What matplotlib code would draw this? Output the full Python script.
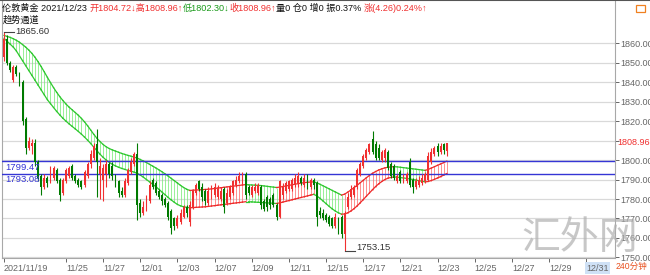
import matplotlib
matplotlib.use("Agg")
import matplotlib.pyplot as plt
from matplotlib.transforms import blended_transform_factory

plt.rcParams["font.family"] = ["Liberation Sans", "Noto Sans CJK SC", "DejaVu Sans"]

# 4-hour bars, London gold, 2021/11/19 .. 2021/12/23
opens = [1853, 1862, 1850, 1841, 1848, 1844, 1840, 1821, 1806, 1807,
         1809, 1799, 1792, 1786, 1791, 1789, 1791, 1795, 1790, 1783,
         1789, 1792, 1797, 1792, 1790, 1789, 1787, 1792, 1798, 1801,
         1808, 1793, 1790, 1793, 1798, 1797, 1792, 1789, 1784, 1782,
         1788, 1794, 1798, 1803, 1778, 1773, 1775, 1779, 1790, 1788,
         1784, 1782, 1780, 1778, 1774, 1770, 1766, 1768, 1771, 1776,
         1768, 1776, 1783, 1789, 1786, 1784, 1778, 1781, 1782, 1781,
         1780, 1785, 1778, 1781, 1783, 1787, 1789, 1788, 1793, 1786,
         1782, 1784, 1783, 1786, 1779, 1781, 1780, 1782, 1777, 1771,
         1782, 1784, 1785, 1785, 1787, 1788, 1791, 1787, 1792, 1786,
         1790, 1788, 1774, 1773, 1772, 1771, 1770, 1766, 1770, 1771,
         1762, 1776, 1781, 1782, 1786, 1793, 1797, 1801, 1804, 1811,
         1808, 1806, 1800, 1801, 1804, 1798, 1797, 1789, 1794, 1789,
         1789, 1799, 1790, 1786, 1787, 1788, 1789, 1790, 1799, 1803,
         1807, 1804, 1808, 1804.72]
highs = [1865.6, 1864, 1851, 1849, 1849, 1845, 1841, 1822, 1812, 1811,
         1811, 1800, 1793, 1793, 1792, 1797, 1797, 1796, 1791, 1791,
         1796, 1797, 1798, 1793, 1791, 1790, 1795, 1799, 1805, 1809,
         1816, 1801, 1798, 1800, 1799, 1799, 1793, 1790, 1786, 1791,
         1796, 1801, 1804, 1809, 1780, 1779, 1782, 1789, 1791, 1789,
         1785, 1783, 1781, 1779, 1775, 1771, 1772, 1775, 1777, 1777,
         1779, 1785, 1788, 1790, 1788, 1785, 1786, 1787, 1788, 1787,
         1786, 1786, 1785, 1787, 1790, 1792, 1794, 1794, 1794, 1787,
         1787, 1788, 1788, 1787, 1780, 1782, 1781, 1783, 1778, 1790,
         1788, 1789, 1790, 1791, 1793, 1794, 1792, 1793, 1793, 1791,
         1791, 1789, 1776, 1775, 1773, 1772, 1771, 1773, 1771, 1772,
         1774, 1783, 1787, 1787, 1796, 1799, 1803, 1806, 1809, 1815,
         1810, 1808, 1805, 1806, 1805, 1799, 1798, 1793, 1795, 1793,
         1794, 1801, 1791, 1791, 1792, 1793, 1794, 1804, 1806, 1807,
         1809, 1809, 1809, 1808.96]
lows = [1851, 1849, 1845, 1840, 1843, 1838, 1818, 1803, 1805, 1803,
        1797, 1789, 1782, 1785, 1786, 1788, 1790, 1788, 1779, 1782,
        1788, 1791, 1790, 1788, 1786, 1785, 1786, 1791, 1796, 1800,
        1781, 1780, 1779, 1786, 1791, 1790, 1786, 1781, 1781, 1781,
        1787, 1793, 1797, 1769, 1771, 1772, 1774, 1778, 1785, 1782,
        1780, 1777, 1776, 1769, 1762, 1764, 1765, 1767, 1770, 1771,
        1766, 1775, 1782, 1784, 1779, 1777, 1777, 1780, 1781, 1780,
        1779, 1773, 1777, 1780, 1782, 1786, 1788, 1787, 1780, 1782,
        1781, 1783, 1782, 1775, 1774, 1774, 1775, 1776, 1769, 1770,
        1780, 1783, 1784, 1784, 1786, 1786, 1787, 1786, 1785, 1785,
        1785, 1766, 1770, 1769, 1768, 1766, 1765, 1765, 1762, 1760,
        1753.15, 1775, 1780, 1781, 1785, 1792, 1796, 1800, 1803, 1803,
        1800, 1800, 1799, 1799, 1795, 1791, 1790, 1788, 1788, 1788,
        1788, 1786, 1783, 1785, 1786, 1787, 1788, 1789, 1798, 1802,
        1802, 1803, 1803, 1802.30]
closes = [1862, 1850, 1846, 1848, 1844, 1840, 1820, 1806, 1810, 1809,
          1799, 1791, 1786, 1791, 1788, 1795, 1796, 1789, 1782, 1790,
          1795, 1796, 1791, 1789, 1787, 1786, 1794, 1798, 1803, 1807,
          1799, 1797, 1796, 1798, 1793, 1792, 1788, 1783, 1782, 1789,
          1795, 1799, 1803, 1777, 1773, 1776, 1780, 1787, 1786, 1783,
          1781, 1779, 1777, 1771, 1765, 1766, 1770, 1773, 1776, 1773,
          1777, 1784, 1787, 1785, 1781, 1779, 1784, 1785, 1786, 1785,
          1784, 1776, 1783, 1786, 1789, 1790, 1792, 1793, 1782, 1783,
          1786, 1786, 1787, 1777, 1775, 1776, 1777, 1777, 1771, 1789,
          1786, 1788, 1789, 1790, 1791, 1792, 1788, 1791, 1787, 1790,
          1787, 1771, 1772, 1770, 1769, 1767, 1766, 1771, 1764, 1762,
          1773, 1781, 1785, 1786, 1795, 1798, 1802, 1805, 1808, 1804,
          1801, 1801, 1804, 1805, 1796, 1792, 1791, 1792, 1789, 1792,
          1793, 1787, 1786, 1789, 1790, 1791, 1793, 1802, 1804, 1806,
          1804, 1807, 1805, 1808.96]

# trend channel (upper / lower edge)
chan_upper = [1864.0, 1863.5, 1863.0, 1862.3, 1861.5, 1860.5, 1859.3, 1858.0, 1856.5, 1854.8,
              1852.8, 1850.5, 1848.0, 1845.3, 1842.5, 1839.8, 1837.2, 1834.8, 1832.6, 1830.6,
              1828.8, 1827.2, 1825.8, 1824.4, 1823.0, 1821.4, 1819.6, 1817.6, 1815.4, 1813.2,
              1811.2, 1809.5, 1808.0, 1806.8, 1805.9, 1805.2, 1804.6, 1804.0, 1803.4, 1802.9,
              1802.4, 1802.0, 1801.5, 1801.0, 1800.3, 1799.5, 1798.7, 1797.8, 1796.9, 1796.0,
              1795.0, 1794.0, 1792.9, 1791.8, 1790.6, 1789.4, 1788.2, 1787.0, 1785.9, 1785.0,
              1784.4, 1784.5, 1784.6, 1784.7, 1784.8, 1784.9, 1785.0, 1785.2, 1785.4, 1785.6,
              1785.8, 1786.0, 1786.2, 1786.4, 1786.6, 1786.8, 1787.0, 1787.2, 1787.4, 1787.3,
              1787.2, 1787.1, 1787.0, 1786.9, 1786.7, 1786.5, 1786.3, 1786.1, 1785.9, 1786.1,
              1786.4, 1786.7, 1787.0, 1787.3, 1787.6, 1787.9, 1788.2, 1788.4, 1788.6, 1788.7,
              1788.8, 1788.3, 1787.6, 1786.8, 1786.0, 1785.2, 1784.4, 1783.6, 1782.8, 1782.0,
              1782.5, 1783.5, 1784.6, 1785.8, 1787.0, 1788.3, 1789.6, 1790.9, 1792.1, 1793.2,
              1794.1, 1794.9, 1795.5, 1796.0, 1796.3, 1796.5, 1796.6, 1796.5, 1796.3, 1796.1,
              1795.9, 1795.7, 1795.5, 1795.3, 1795.1, 1794.9, 1794.7, 1795.2, 1795.9, 1796.6,
              1797.3, 1798.0, 1798.7, 1799.47]
chan_lower = [1862.5, 1861.0, 1859.5, 1858.0, 1856.0, 1853.5, 1851.0, 1848.5, 1846.0, 1843.5,
              1841.0, 1838.5, 1836.0, 1833.5, 1831.0, 1829.0, 1827.0, 1825.0, 1823.2, 1821.5,
              1820.0, 1818.6, 1817.3, 1816.0, 1814.7, 1813.3, 1811.8, 1810.2, 1808.5, 1806.6,
              1804.8, 1803.0, 1801.4, 1800.0, 1798.8, 1797.8, 1797.0, 1796.3, 1795.7, 1795.2,
              1794.7, 1794.3, 1793.8, 1793.2, 1792.3, 1791.2, 1790.0, 1788.8, 1787.6, 1786.4,
              1785.0, 1783.6, 1782.2, 1780.8, 1779.5, 1778.3, 1777.2, 1776.5, 1776.0, 1775.7,
              1775.5, 1775.6, 1775.7, 1775.8, 1775.9, 1776.0, 1776.2, 1776.4, 1776.6, 1776.8,
              1777.0, 1777.2, 1777.4, 1777.6, 1777.8, 1778.0, 1778.2, 1778.4, 1778.6, 1778.6,
              1778.5, 1778.4, 1778.3, 1778.2, 1778.1, 1778.0, 1777.9, 1777.8, 1777.7, 1778.0,
              1778.4, 1778.8, 1779.2, 1779.6, 1780.0, 1780.4, 1780.8, 1781.2, 1781.6, 1782.0,
              1782.4, 1781.6, 1780.4, 1779.0, 1777.6, 1776.2, 1774.9, 1773.8, 1772.9, 1772.2,
              1772.3, 1772.9, 1773.8, 1775.0, 1776.4, 1778.0, 1779.7, 1781.4, 1783.1, 1784.8,
              1786.4, 1787.8, 1789.0, 1790.0, 1790.7, 1791.1, 1791.3, 1791.2, 1791.0, 1790.8,
              1790.6, 1790.3, 1790.0, 1789.7, 1789.4, 1789.1, 1788.8, 1789.0, 1789.5, 1790.1,
              1790.8, 1791.5, 1792.3, 1793.08]

date_ticks = [0, 20, 32, 44, 56, 68, 80, 92, 104, 116, 128, 140, 152, 164, 176, 188]
date_labels = ["2021/11/19", "11/25", "11/27", "12/01", "12/03", "12/07", "12/09",
               "12/11", "12/15", "12/17", "12/21", "12/23", "12/25", "12/27",
               "12/29", "12/31"]
price_ticks = [1750, 1760, 1770, 1780, 1790, 1800, 1810, 1820, 1830, 1840, 1850, 1860]
last_price = 1808.96
hi_mark = (0, 1865.60)
lo_mark = (110, 1753.15)
header = [("伦敦黄金 2021/12/23 ", "#111111"), ("开1804.72↓高1808.96↑", "#f03030"),
          ("低1802.30↓", "#1a9a1a"), ("收1808.96↑", "#f03030"),
          ("量0 仓0 增0 振0.37% ", "#111111"), ("涨(4.26)0.24%↑", "#f03030")]

RED = "#f03030"
GREEN = "#007a00"
BLUE = "#3535d5"
CJK = ["Liberation Sans", "Noto Sans CJK SC", "DejaVu Sans"]

fig = plt.figure(figsize=(6.5, 2.75), dpi=100)
ax = fig.add_axes([2 / 650, 17 / 275, 613 / 650, 258 / 275])
ax.set_xlim(-0.65, 197.3)
ax.set_ylim(1749.7, 1882.2)

# grid + axes; the 1810 label gives way to the last price
ax.set_yticks(price_ticks)
ax.set_yticklabels(["" if v == 1810 else f"{v:.2f}" for v in price_ticks])
ax.yaxis.tick_right()
ax.grid(axis="y", color="#d9d9d9", lw=0.9)
ax.tick_params(axis="y", length=3, width=0.7, pad=1, labelsize=6.5,
               colors="#666666", direction="out")
ax.set_xticks(date_ticks)
ax.set_xticklabels(date_labels)
ax.tick_params(axis="x", length=3, width=0.7, pad=1, labelsize=6.5,
               colors="#666666", direction="out")
for lab in ax.get_xticklabels():
    lab.set_horizontalalignment("left")
ax.get_xticklabels()[-1].set_bbox(dict(facecolor="#cfe1f6", edgecolor="none", pad=0.8))
ax.spines["top"].set_visible(False)
for s in ["left", "right", "bottom"]:
    ax.spines[s].set_color("#a8a8a8")
    ax.spines[s].set_linewidth(0.8)

# trend channel: hatched green while falling, red while rising
n = len(closes)
for i in range(n):
    falling = i == 0 or chan_upper[i] < chan_upper[i - 1]
    hatch_c = "#7ceb7c" if falling else "#ff7070"
    edge_c = "#2ec82e" if falling else "#ee2a2a"
    ax.vlines(i, chan_lower[i], chan_upper[i], color=hatch_c, lw=0.55, zorder=2)
    if i > 0:
        ax.plot([i - 1, i], [chan_upper[i - 1], chan_upper[i]], color=edge_c, lw=0.9, zorder=2)
        ax.plot([i - 1, i], [chan_lower[i - 1], chan_lower[i]], color=edge_c, lw=0.9, zorder=2)

# current channel levels
for lvl in (chan_upper[-1], chan_lower[-1]):
    ax.axhline(lvl, color=BLUE, lw=1.0, zorder=3)
    ax.text(0.3, lvl - 0.9, f"{lvl:.2f}", color=BLUE, fontsize=6.8, va="top", ha="left", zorder=6)

# candles
for i in range(n):
    o, h, l, c = opens[i], highs[i], lows[i], closes[i]
    col = RED if c >= o else GREEN
    ax.vlines(i, l, h, color=col, lw=0.8, zorder=4)
    ax.bar(i, max(abs(c - o), 0.4), bottom=min(o, c), width=0.62, color=col,
           lw=0, zorder=5)

# high / low markers
ax.plot([hi_mark[0], hi_mark[0] + 3.2], [hi_mark[1], hi_mark[1]], color="#444444", lw=0.8, zorder=6)
ax.text(hi_mark[0] + 3.6, hi_mark[1] + 0.5, f"{hi_mark[1]:.2f}", fontsize=6.8,
        color="#333333", va="center", ha="left")
ax.plot([lo_mark[0], lo_mark[0] + 3.2], [lo_mark[1], lo_mark[1]], color="#444444", lw=0.8, zorder=6)
ax.text(lo_mark[0] + 3.6, lo_mark[1] + 1.7, f"{lo_mark[1]:.2f}", fontsize=6.8,
        color="#333333", va="center", ha="left")

# last price on the right axis
tr = blended_transform_factory(ax.transAxes, ax.transData)
ax.text(1.004, last_price, f"{last_price:.2f}", transform=tr, color=RED,
        fontsize=6.5, va="center", ha="left", clip_on=False)

# header line, pieces chained one after another
prev = fig.text(2 / 650, 1 - 8 / 275, header[0][0], color=header[0][1],
                fontsize=6.6, family=CJK, va="center", ha="left")
for txt, col in header[1:]:
    prev = fig.add_artist(plt.Annotation(txt, xy=(1, 0.5), xycoords=prev,
                                         color=col, fontsize=6.6, family=CJK,
                                         va="center", ha="left"))
fig.text(3 / 650, 1 - 20 / 275, "趋势通道", color="#111111", fontsize=6.6,
         family=CJK, va="center", ha="left")

# top strip, icon, period label, watermark
fig.add_artist(plt.Line2D([0, 1], [1, 1], color="#555555", lw=1.5))
fig.add_artist(plt.Rectangle((636 / 650, 1 - 12 / 275), 9 / 650, 7 / 275,
                             fill=False, edgecolor="#f08020", lw=0.9))
fig.text(616 / 650, 9 / 275, "240分钟", color="#e8501e", fontsize=6.2,
         family=CJK, va="center", ha="left")
fig.text(580 / 650, 37 / 275, "汇外网", color="#b0b0b0", alpha=0.7, fontsize=28,
         family=["Noto Sans CJK SC"], weight="light", va="center", ha="center")

fig.savefig("out.png", dpi=100)
